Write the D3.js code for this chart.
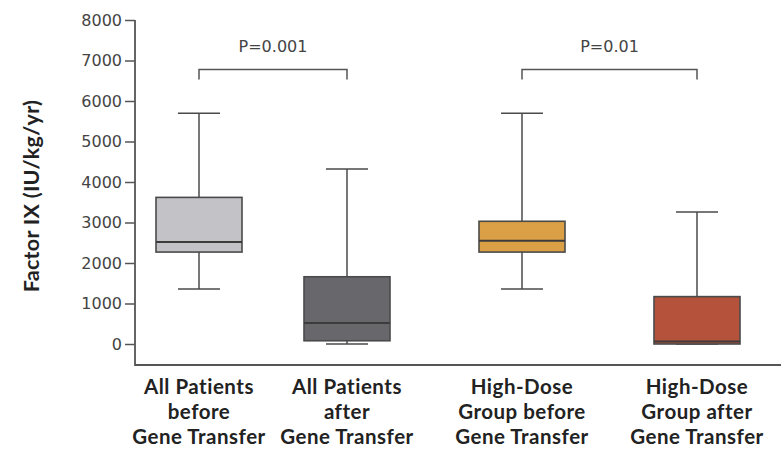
<!DOCTYPE html>
<html>
<head>
<meta charset="utf-8">
<script src="https://cdn.jsdelivr.net/npm/d3@7"></script>
<style>
  body { margin: 0; background: #fff; }
  svg { display: block; }
</style>
</head>
<body>
<div id="chart"></div>
<script>
// groups and their box statistics (IU/kg/yr)
var groups = ["All Patients before Gene Transfer", "All Patients after Gene Transfer",
              "High-Dose Group before Gene Transfer", "High-Dose Group after Gene Transfer"];
var labelLines = [["All Patients", "before", "Gene Transfer"],
                  ["All Patients", "after", "Gene Transfer"],
                  ["High-Dose", "Group before", "Gene Transfer"],
                  ["High-Dose", "Group after", "Gene Transfer"]];
var whiskerLow  = [1360, 0, 1360, 0];
var q1          = [2270, 80, 2270, 0];
var median      = [2520, 520, 2550, 60];
var q3          = [3620, 1660, 3030, 1170];
var whiskerHigh = [5700, 4320, 5700, 3260];
var colors = ["#c3c3c7", "#68686c", "#dba046", "#b4523c"];
var yTicks = [0, 1000, 2000, 3000, 4000, 5000, 6000, 7000, 8000];
var comparisons = [
  {from: 0, to: 1, label: "P=0.001"},
  {from: 2, to: 3, label: "P=0.01"}
];

var width = 784, height = 449;
var svg = d3.select("#chart").append("svg")
    .attr("width", width)
    .attr("height", height);

var y = d3.scaleLinear().domain([0, 8000]).range([344, 20]);
var x = d3.scaleOrdinal().domain(groups).range([199, 347, 522, 697]);
var boxW = 86, capW = 42;
var stroke = "#4a4a4a";
var boldFont = "Lato, Liberation Sans, sans-serif";

// y axis
var yAxis = svg.append("g")
    .attr("transform", "translate(135,0)")
    .call(d3.axisLeft(y).tickValues(yTicks).tickSize(10).tickPadding(3).tickFormat(d3.format("d")));
yAxis.select(".domain").remove();
yAxis.selectAll(".tick line").attr("stroke", "#555").attr("stroke-width", 1.5);
yAxis.selectAll(".tick text")
    .attr("fill", "#444")
    .style("font-family", "DejaVu Sans, sans-serif")
    .style("font-size", "16px");

// axis frame lines
svg.append("path")
    .attr("d", "M135," + y(8000) + "V365H781")
    .attr("fill", "none")
    .attr("stroke", "#555")
    .attr("stroke-width", 1.8);

// y title
svg.append("text")
    .attr("transform", "translate(39,196) rotate(-90)")
    .attr("text-anchor", "middle")
    .style("font-family", boldFont)
    .style("font-weight", "bold")
    .style("font-size", "21.5px")
    .style("letter-spacing", "0.3px")
    .attr("fill", "#222")
    .text("Factor IX (IU/kg/yr)");

// boxes
var data = groups.map(function(g, i) {
  return {name: g, lo: whiskerLow[i], q1: q1[i], med: median[i], q3: q3[i], hi: whiskerHigh[i], color: colors[i], lines: labelLines[i]};
});

var box = svg.selectAll(".box").data(data).enter().append("g").attr("class", "box");

box.append("line")
    .attr("x1", function(d) { return x(d.name); })
    .attr("x2", function(d) { return x(d.name); })
    .attr("y1", function(d) { return y(d.lo); })
    .attr("y2", function(d) { return y(d.hi); })
    .attr("stroke", stroke).attr("stroke-width", 1.5);

box.selectAll(".cap").data(function(d) { return [{n: d.name, v: d.lo}, {n: d.name, v: d.hi}]; })
  .enter().append("line")
    .attr("x1", function(d) { return x(d.n) - capW / 2; })
    .attr("x2", function(d) { return x(d.n) + capW / 2; })
    .attr("y1", function(d) { return y(d.v); })
    .attr("y2", function(d) { return y(d.v); })
    .attr("stroke", stroke).attr("stroke-width", 1.5);

box.append("rect")
    .attr("x", function(d) { return x(d.name) - boxW / 2; })
    .attr("width", boxW)
    .attr("y", function(d) { return y(d.q3); })
    .attr("height", function(d) { return y(d.q1) - y(d.q3); })
    .attr("fill", function(d) { return d.color; })
    .attr("stroke", stroke).attr("stroke-width", 1.6);

box.append("line")
    .attr("x1", function(d) { return x(d.name) - boxW / 2; })
    .attr("x2", function(d) { return x(d.name) + boxW / 2; })
    .attr("y1", function(d) { return y(d.med); })
    .attr("y2", function(d) { return y(d.med); })
    .attr("stroke", "#3c3c3c").attr("stroke-width", 2);

// category labels
box.append("text")
    .attr("text-anchor", "middle")
    .style("font-family", boldFont)
    .style("font-weight", "bold")
    .style("font-size", "20.5px")
    .style("letter-spacing", "0.5px")
    .attr("fill", "#222")
    .selectAll("tspan").data(function(d) { return d.lines.map(function(l) { return {n: d.name, t: l}; }); })
  .enter().append("tspan")
    .attr("x", function(d) { return x(d.n); })
    .attr("y", function(d, i) { return 394 + i * 25; })
    .text(function(d) { return d.t; });

// significance brackets
var br = svg.selectAll(".bracket").data(comparisons).enter().append("g").attr("class", "bracket");
br.append("path")
    .attr("d", function(d) {
      var x1 = x(groups[d.from]), x2 = x(groups[d.to]);
      return "M" + x1 + "," + y(6530) + "V" + y(6780) + "H" + x2 + "V" + y(6530);
    })
    .attr("fill", "none")
    .attr("stroke", "#555")
    .attr("stroke-width", 1.5);
br.append("text")
    .attr("x", function(d) { return (x(groups[d.from]) + x(groups[d.to])) / 2; })
    .attr("y", y(7200))
    .attr("text-anchor", "middle")
    .style("font-family", "DejaVu Sans, sans-serif")
    .style("font-size", "16px")
    .attr("fill", "#444")
    .text(function(d) { return d.label; });
</script>
</body>
</html>
